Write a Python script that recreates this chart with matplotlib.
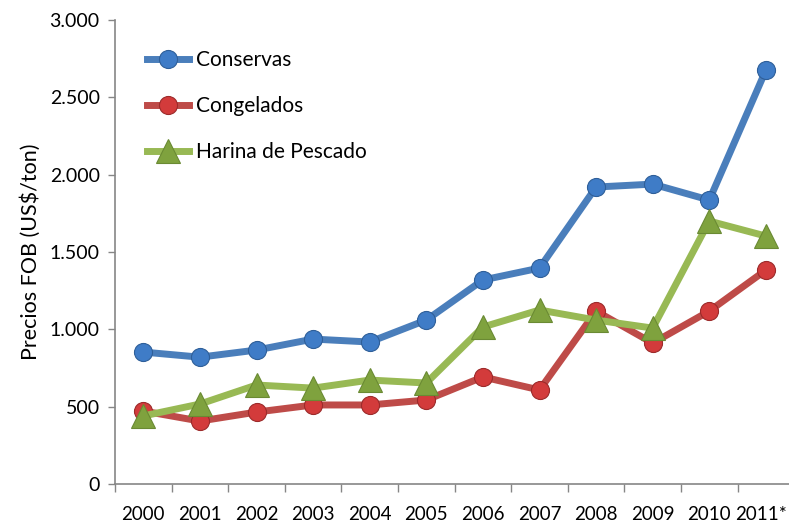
import matplotlib
matplotlib.use("Agg")
import matplotlib.pyplot as plt
import matplotlib.transforms as mtransforms
from matplotlib.ticker import FuncFormatter, FixedLocator
import numpy as np

years = ["2000", "2001", "2002", "2003", "2004", "2005", "2006", "2007", "2008", "2009", "2010", "2011*"]
conservas = [853, 820, 866, 937, 918, 1060, 1319, 1396, 1920, 1939, 1836, 2676]
congelados = [472, 407, 465, 511, 511, 543, 692, 608, 1118, 911, 1118, 1383]
harina = [440, 517, 640, 620, 672, 653, 1015, 1125, 1060, 1008, 1700, 1603]

plt.rcParams['font.family'] = ['Lato', 'DejaVu Sans']

fig = plt.figure(figsize=(7.89, 5.27), dpi=100)
ax = fig.add_axes([115/789, 1-484/527, 1-115/789, (484-20)/527])

x = np.arange(len(years))
ax.plot(x, conservas, color='#4a7ebb', lw=5, marker='o', ms=13,
        mfc='#3f7cc7', mec='#2f5f99', mew=0.8, label='Conservas', zorder=3)
ax.plot(x, congelados, color='#be4b48', lw=5, marker='o', ms=13,
        mfc='#d33b3b', mec='#9c2b2b', mew=0.8, label='Congelados', zorder=3)
ax.plot(x, harina, color='#98b954', lw=5, marker='^', ms=17,
        mfc='#7fa23e', mec='#6a8a33', mew=0.8, label='Harina de Pescado', zorder=4)

ax.set_xlim(-0.5, -0.5 + (789-115)/56.6)
ax.set_ylim(0, 3000)
ax.set_yticks(np.arange(0, 3001, 500))
ax.yaxis.set_major_formatter(FuncFormatter(lambda v, p: f"{int(v):,}".replace(",", ".")))
ax.set_xticks(x)
ax.set_xticklabels(years)
ax.xaxis.set_minor_locator(FixedLocator(np.arange(-0.5, 11.6, 1)))
ax.tick_params(axis='x', which='major', length=0, pad=16, labelsize=13.5, colors='black')
ax.tick_params(axis='x', which='minor', length=6, color='#868686', width=1)
ax.tick_params(axis='y', length=5, color='#868686', width=1, labelsize=14, pad=6)
last = ax.get_xticklabels()[-1]
last.set_transform(last.get_transform() + mtransforms.ScaledTranslation(-5/100, 0, fig.dpi_scale_trans))

for s in ['top', 'right']:
    ax.spines[s].set_visible(False)
for s in ['left', 'bottom']:
    ax.spines[s].set_color('#868686')
    ax.spines[s].set_linewidth(1.2)

ax.set_ylabel('Precios FOB (US$/ton)', fontsize=15.5, labelpad=6)

leg = ax.legend(loc='upper left', bbox_to_anchor=(0.02, 0.975), frameon=False,
                fontsize=15, labelspacing=1.25, handlelength=2.0, handletextpad=0.35)

fig.savefig('out.png', dpi=100)
